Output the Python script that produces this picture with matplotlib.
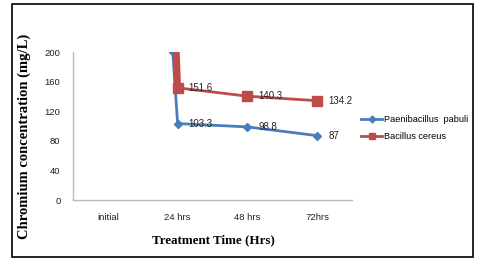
import matplotlib.pyplot as plt
from matplotlib.patches import Rectangle
from matplotlib.lines import Line2D

# --- data ---
categories = ['initial', '24 hrs', '48 hrs', '72hrs']
pabuli_x = [0.93, 1.0, 2.0, 3.0]
pabuli = [200, 103.3, 98.8, 87]
cereus_x = [0.98, 1.0, 2.0, 3.0]
cereus = [200, 151.6, 140.3, 134.2]

blue = '#4A7EBB'
red = '#BE4B48'
plt.rcParams['font.family'] = ['Liberation Sans', 'DejaVu Sans']

fig = plt.figure(figsize=(4.81, 2.69), dpi=100)
ax = fig.add_axes([73/481, 1-200/269, 279/481, 148/269])

# Paenibacillus pabuli
ax.plot(pabuli_x, pabuli, color=blue, lw=2, marker='D', ms=4, zorder=3)
# Bacillus cereus (first drop drawn thick like the original)
ax.plot(cereus_x[:2], cereus[:2], color=red, lw=5, solid_capstyle='butt', zorder=3)
ax.plot(cereus_x[1:], cereus[1:], color=red, lw=2, marker='s', ms=6.5, zorder=3)

# data labels
for x, y in zip(pabuli_x[1:], pabuli[1:]):
    ax.annotate(f'{y:g}', (x, y), xytext=(8, 0), textcoords='offset points',
                va='center', ha='left', fontsize=7, color='#222222', zorder=4)
for x, y in zip(cereus_x[1:], cereus[1:]):
    ax.annotate(f'{y:g}', (x, y), xytext=(8, 0), textcoords='offset points',
                va='center', ha='left', fontsize=7, color='#222222', zorder=4)

ax.set_xlim(-0.5, 3.5)
ax.set_ylim(0, 200)
ax.set_yticks(range(0, 201, 40))
ax.set_xticks(range(len(categories)))
ax.set_xticklabels(categories)
ax.tick_params(length=0, labelsize=6.8, colors='#222222')
ax.tick_params(axis='y', pad=9)
ax.tick_params(axis='x', pad=9)
for s in ['top', 'right']:
    ax.spines[s].set_visible(False)
for s in ['left', 'bottom']:
    ax.spines[s].set_color('#BBBBBB')
    ax.spines[s].set_linewidth(1)

fig.text(24/481, 1-136/269, 'Chromium concentration (mg/L)', rotation=90,
         family='Liberation Serif', fontweight='bold', fontsize=10.5,
         ha='center', va='center')
fig.text(213/481, 1-240/269, 'Treatment Time (Hrs)',
         family='Liberation Serif', fontweight='bold', fontsize=9.4,
         ha='center', va='center')

handles = [Line2D([], [], color=blue, lw=2, marker='D', ms=3.5),
           Line2D([], [], color=red, lw=2, marker='s', ms=5)]
fig.legend(handles, ['Paenibacillus  pabuli', 'Bacillus cereus'],
           loc='center left', bbox_to_anchor=(353/481, 1-128/269),
           frameon=False, fontsize=6.6, handlelength=2.3, handletextpad=0.2,
           labelspacing=0.9)

# outer frame
fig.patches.append(Rectangle((12/481, 1-257/269), 461/481, 253/269,
                             transform=fig.transFigure, fill=False,
                             edgecolor='black', lw=1.2))

fig.savefig('out.png', dpi=100)
